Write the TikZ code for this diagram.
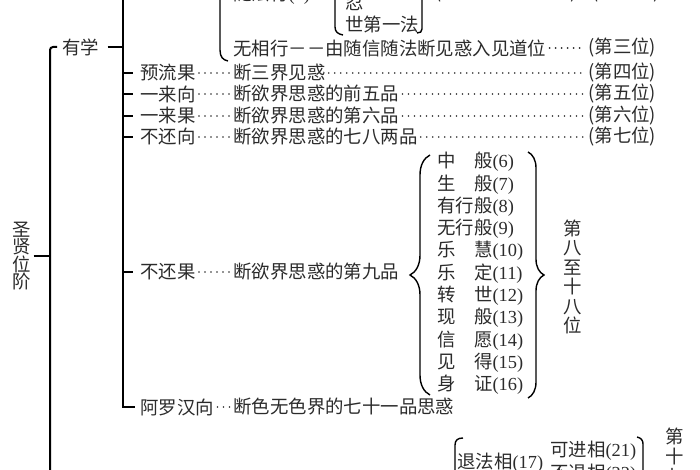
\documentclass[tikz,border=0pt]{standalone}
\usepackage{fontspec}
\newfontfamily\cjk{Noto Sans CJK SC}
\newfontfamily\numfont{Liberation Serif}
\usetikzlibrary{decorations.pathreplacing}
\definecolor{ink}{HTML}{2B2B2B}
\newcommand\pnum[1]{{\numfont #1}}
\tikzset{
  txt/.style={inner sep=0pt, anchor=west, text=ink, font=\cjk\fontsize{9.2}{11}\selectfont},
  column/.style={txt, anchor=center, align=center, font=\cjk\fontsize{9.2}{#1}\selectfont},
  trunk/.style={line width=1pt},
  bracket/.style={line width=0.7pt},
  curly/.style={line width=0.7pt, decorate, decoration={brace, amplitude=#1}},
  leader/.style={ink, line width=0.9pt, line cap=round, dash pattern=on 0pt off 3pt,
    shorten <=1.5pt, shorten >=1.5pt}
}
\begin{document}
\begin{tikzpicture}[x=0.5pt, y=-0.5pt]
\useasboundingbox (0,0) rectangle (700,470);
\clip (0,0) rectangle (700,470);
\coordinate (spineA) at (50,480);
\coordinate (spineB) at (123,-20);

\node [column=8.7pt] (stage) at (22,256) {圣\\贤\\位\\阶};
\node [txt] (youxue) at (62,47) {有学};
\draw [trunk, rounded corners=1.5pt] ([xshift=-2.5pt]youxue.west) -| (spineA);
\draw [trunk] ([xshift=1pt]stage.east) -- (spineA |- stage);
\draw [trunk] ([xshift=4pt]youxue.east) -- (spineB |- youxue);

% jian dao
\node [txt] (suifa) at (233,-5) {随法行\pnum{(2)}};
\node [txt] (ren) at (345,3) {忍};
\node [txt] (shidiyi) at (345,24) {世第一法};
\node [txt] (suifa-c) at (435,-7) {(利根自依法修行)};
\node [txt] (suifa-p) at (592,-7) {(第二位)};
\node [txt] (wuxiang) at (233,48) {无相行－－由随信随法断见惑入见道位};
\node [txt] (wuxiang-p) at (588,48) {(第三位)};
\draw [bracket] (220,-20) -- (220,50) .. controls (220,57) and (223,60) .. (228,61);
\draw [bracket] (335,-20) -- (335,27) .. controls (335,32) and (338,34) .. (343,35);
\draw [bracket] (422,-20) -- (422,29) .. controls (422,32) and (420,33) .. (417,33);
\draw [leader] (wuxiang) -- (wuxiang-p);

\foreach \key/\who/\cut/\rank/\y in {yuliu/预流果/断三界见惑/四/73,
    yilaixiang/一来向/断欲界思惑的前五品/五/94,
    yilaiguo/一来果/断欲界思惑的第六品/六/116,
    buhuanxiang/不还向/断欲界思惑的七八两品/七/137} {
  \node [txt] (\key) at (140,\y) {\who};
  \node [txt] (\key-c) at (233,\y) {\cut};
  \node [txt] (\key-p) at (588,\y) {(第\rank 位)};
  \draw [trunk, shorten >=3.5pt] (spineB |- \key) -- (\key.west);
  \draw [leader] (\key) -- (\key-c);
  \draw [leader] (\key-c) -- (\key-p);
}

\node [txt] (buhuanguo) at (140,272) {不还果};
\node [txt] (buhuanguo-c) at (233,272) {断欲界思惑的第九品};
\draw [trunk, shorten >=3.5pt] (spineB |- buhuanguo) -- (buhuanguo.west);
\draw [leader] (buhuanguo) -- (buhuanguo-c);
\foreach \hd/\n [count=\i from 0] in {{中\hspace{1em}般}/6, {生\hspace{1em}般}/7,
    有行般/8, 无行般/9, {乐\hspace{1em}慧}/10, {乐\hspace{1em}定}/11,
    {转\hspace{1em}世}/12, {现\hspace{1em}般}/13, {信\hspace{1em}愿}/14,
    {见\hspace{1em}得}/15, {身\hspace{1em}证}/16}
  \node [txt] (g\n) at (437,{162+22.3*\i}) {\hd\pnum{(\n)}};
\draw [curly=10pt] (430,395) -- (430,155);
\draw [curly=8pt] (528,152) -- (528,398);
\node [column=9.75pt] (rank8) at (573,277) {第\\八\\至\\十\\八\\位};

\node [txt] (luohan) at (140,407) {阿罗汉向};
\node [txt] (luohan-c) at (233,407) {断色无色界的七十一品思惑};
\draw [trunk] (spineB) |- ([xshift=-2.5pt]luohan.west);
\draw [leader] (luohan) -- (luohan-c);

\node [txt] (tuifa) at (457,463) {退法相\pnum{(17)}};
\node [txt] (kejin) at (550,451) {可进相\pnum{(21)}};
\node [txt] (butui) at (550,474) {不退相\pnum{(22)}};
\draw [bracket] (455,480) -- (455,445) .. controls (455,440) and (458,438) .. (463,438);
\draw [bracket] (643,480) -- (643,444) .. controls (643,440) and (641,438) .. (637,437);
\node [column=10pt] (rank17) at (675,456) {第\\十\\七};
\end{tikzpicture}
\end{document}
